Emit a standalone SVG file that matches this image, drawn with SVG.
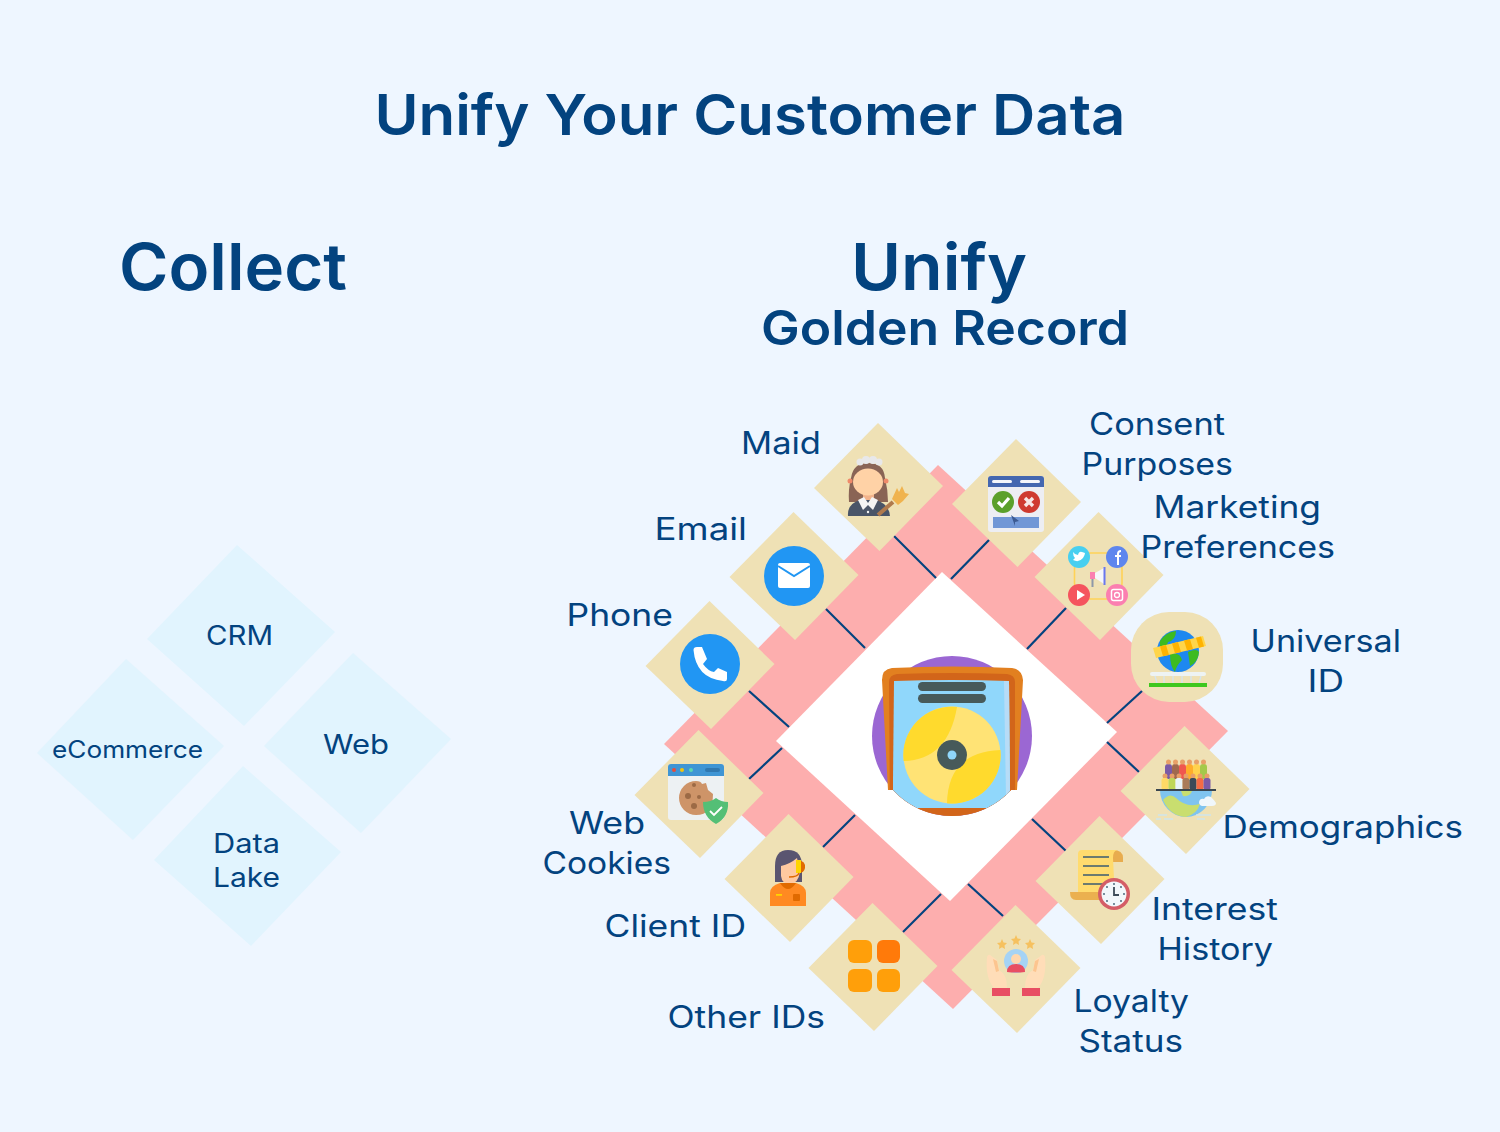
<svg xmlns="http://www.w3.org/2000/svg" width="1500" height="1132" viewBox="0 0 1500 1132">
<style>
text{font-family:"Inter","Noto Sans","Liberation Sans",sans-serif;fill:#03437f}
.h{font-weight:600}
.l{font-size:31px;font-weight:400}
.s{font-size:27px;font-weight:400}
.tan{fill:#efe1b5}
.src{fill:#e1f4fe}
.lk{stroke:#03437f;stroke-width:2.2;fill:none}
</style>
<defs>
<polygon id="d" points="-0.5,-64 64.5,-1 1,64 -64.5,1"/>
<clipPath id="cc"><circle cx="952" cy="736" r="80"/><rect x="870" y="650" width="165" height="140"/></clipPath>
<clipPath id="cb"><rect x="870" y="650" width="165" height="158"/></clipPath>
</defs>
<rect width="1500" height="1132" fill="#eef6ff"/>

<text class="h" x="374.500" y="135" font-size="57" textLength="751" lengthAdjust="spacingAndGlyphs">Unify Your Customer Data</text>
<text class="h" x="119" y="290" font-size="65" textLength="228" lengthAdjust="spacingAndGlyphs">Collect</text>
<text class="h" x="851" y="290" font-size="65" textLength="176" lengthAdjust="spacingAndGlyphs">Unify</text>
<text class="h" x="761" y="345" font-size="48" textLength="368" lengthAdjust="spacingAndGlyphs">Golden Record</text>

<g id="src-crm"><polygon class="src" points="237,545 335,632 244,726 147,639"/><text class="s" x="206" y="645" textLength="67" lengthAdjust="spacingAndGlyphs">CRM</text></g>
<g id="src-ecommerce"><polygon class="src" points="126,659 224,746 133,840 37,753"/><text x="52" y="758" font-size="24" textLength="151" lengthAdjust="spacingAndGlyphs">eCommerce</text></g>
<g id="src-web"><polygon class="src" points="353,653 451,739 361,833 264,746"/><text class="s" x="323" y="754" textLength="66" lengthAdjust="spacingAndGlyphs">Web</text></g>
<g id="src-lake"><polygon class="src" points="243,766 341,852 251,946 154,860"/><text class="s" x="213" y="853" textLength="67" lengthAdjust="spacingAndGlyphs">Data</text><text class="s" x="213" y="887" textLength="67" lengthAdjust="spacingAndGlyphs">Lake</text></g>

<g id="backdrop">
<polygon points="938,465 1228,731 953,1009 664,744" fill="#fdaeae"/>
<polygon points="942,572 1117,732 950,901 776,741" fill="#fff"/>
</g>

<g id="connectors">
<line class="lk" x1="894" y1="536" x2="936" y2="578"/>
<line class="lk" x1="989" y1="540" x2="951" y2="579"/>
<line class="lk" x1="1066" y1="608" x2="1027" y2="649"/>
<line class="lk" x1="1142" y1="691" x2="1107" y2="723"/>
<line class="lk" x1="826" y1="609" x2="865" y2="648"/>
<line class="lk" x1="749" y1="691" x2="789" y2="727"/>
<line class="lk" x1="749" y1="779" x2="782" y2="748"/>
<line class="lk" x1="823" y1="847" x2="855" y2="815"/>
<line class="lk" x1="903" y1="932" x2="941" y2="894"/>
<line class="lk" x1="968" y1="884" x2="1003" y2="916"/>
<line class="lk" x1="1032" y1="819" x2="1066" y2="851"/>
<line class="lk" x1="1107" y1="742" x2="1139" y2="772"/>
</g>

<g id="center">
<circle cx="952" cy="736" r="80" fill="#9b67d3"/>
<g clip-path="url(#cc)">
<path d="M892,668 Q952,665 1012,668 Q1022,669 1023,680 L1017,790 L1017,830 L888,830 L888,790 L882,680 Q882,669 892,668Z" fill="#e28020"/>
<path d="M897,674 Q952,672 1007,674 Q1015,675 1015,682 L1015,830 L890,830 L889,682 Q889,675 897,674Z" fill="#d2651a"/>
</g>
<g clip-path="url(#cb)"><g clip-path="url(#cc)">
<path d="M894,681 Q952,679 1009,681 L1010,780 L1010,830 L893,830 L893,780Z" fill="#90d7fb"/>
<path d="M1004,681 L1009,681 L1010,790 L1006,796Z" fill="#b6dcf7"/>
</g></g>
<rect x="918" y="682" width="68" height="9" rx="4.500" fill="#475a5a"/>
<rect x="918" y="694" width="68" height="9" rx="4.500" fill="#475a5a"/>
<circle cx="952" cy="755" r="48.500" fill="#ffe375"/>
<path d="M957,707 A48.500,48.500 0 0 0 903.600,761 Q948,760 957,707Z" fill="#ffda2d"/>
<path d="M1000.400,750 A48.500,48.500 0 0 1 947,803.300 Q948,752 1000.400,750Z" fill="#ffda2d"/>
<circle cx="952" cy="755" r="15" fill="#475a5a"/>
<circle cx="952" cy="755" r="4.500" fill="#90d7fb"/>
</g>

<g id="maid">
<use href="#d" class="tan" x="878.500" y="487"/>
<path d="M849,502 Q848,490 851,478 Q853,463 868,463 Q884,463 885,478 Q888,490 888,502Z" fill="#8a6455"/>
<g fill="#e8e8ea"><circle cx="860" cy="462" r="3.500"/><circle cx="866" cy="460" r="4"/><circle cx="873" cy="460" r="4"/><circle cx="879" cy="462" r="3.500"/></g>
<circle cx="850" cy="481" r="2.500" fill="#f08a6a"/><circle cx="886" cy="481" r="2.500" fill="#f08a6a"/>
<rect x="863" y="492" width="11" height="9" fill="#f2b38c"/>
<ellipse cx="868" cy="482" rx="15" ry="13.500" fill="#ffd2a6"/>
<path d="M848,516 Q847,504 860,500 L876,500 Q889,504 890,516Z" fill="#4a5568"/>
<path d="M858,500 L864,497 L868,503 L872,497 L878,500 L873,510 L868,505 L863,510Z" fill="#f4f4f4"/>
<circle cx="868" cy="512" r="1.200" fill="#f4f4f4"/>
<line x1="878" y1="515" x2="893" y2="502" stroke="#b07a4d" stroke-width="4"/>
<path d="M892,499 L897,488 L899,492 L902,486 L905,493 L909,494 L903,501 L898,505Z" fill="#f0b34e"/>
</g>

<g id="consent">
<use href="#d" class="tan" x="1016.500" y="503"/>
<rect x="988" y="476" width="56" height="56" rx="3" fill="#edeef3"/>
<path d="M988,487 V479 Q988,476 991,476 H1041 Q1044,476 1044,479 V487Z" fill="#4467b0"/>
<rect x="992" y="480" width="20" height="3" rx="1.500" fill="#f4f6fb"/><rect x="1020" y="480" width="20" height="3" rx="1.500" fill="#f4f6fb"/>
<circle cx="1003" cy="502" r="11" fill="#5ba02b"/>
<path d="M998,502 L1002,506 L1009,498" stroke="#fff" stroke-width="3.200" fill="none"/>
<circle cx="1029" cy="502" r="11" fill="#cf3a2f"/>
<path d="M1025,498 L1033,506 M1033,498 L1025,506" stroke="#f7e6e4" stroke-width="3.400" fill="none"/>
<rect x="993" y="517" width="46" height="11" fill="#7197d6"/>
<path d="M1011,515 L1019,521 L1015,522 L1015,526Z" fill="#3c5a92"/>
</g>

<g id="marketing">
<use href="#d" class="tan" x="1099" y="576"/>
<rect x="1074.500" y="553" width="47.500" height="46" rx="16" fill="none" stroke="#ffd257" stroke-width="1.600"/>
<circle cx="1079" cy="557" r="11" fill="#48cff0"/>
<path d="M1073,560 Q1079,563 1083,558 Q1085,555 1085,553 L1082,552 Q1079,551 1078,555 Q1075,555 1073,552 Q1073,556 1075,558Z" fill="#fff"/>
<circle cx="1117" cy="557" r="11" fill="#5e86ee"/>
<path d="M1118,565 V554 Q1118,551 1121,551 M1115,556 H1121" stroke="#fff" stroke-width="2" fill="none"/>
<circle cx="1079" cy="595" r="11" fill="#f5545e"/>
<path d="M1077,590 L1085,595 L1077,600Z" fill="#fff"/>
<circle cx="1117" cy="595" r="11" fill="#fb7fb0"/>
<rect x="1111.500" y="589.500" width="11" height="11" rx="2" fill="none" stroke="#fff" stroke-width="1.500"/><circle cx="1117" cy="595" r="2.500" fill="none" stroke="#fff" stroke-width="1.300"/>
<rect x="1090" y="572" width="5" height="7" fill="#fb7fb0"/>
<path d="M1095,573 L1104,568 V584 L1095,578Z" fill="#f6f6fa"/>
<rect x="1103.500" y="567" width="2" height="18" fill="#6a77ee"/>
<rect x="1091.500" y="579" width="2" height="8" fill="#8d98a8"/>
</g>

<g id="email">
<use href="#d" class="tan" x="794" y="576"/>
<circle cx="794" cy="576" r="30" fill="#2196f3"/>
<rect x="778" y="563" width="32" height="25" rx="2" fill="#fff"/>
<path d="M778,566 L794,576 L810,566" fill="none" stroke="#2196f3" stroke-width="2"/>
</g>

<g id="phone">
<use href="#d" class="tan" x="710" y="665"/>
<circle cx="710" cy="664" r="30" fill="#2196f3"/>
<path d="M693.500,650 Q693.500,647 697,647 L702,647 L707,659 L703,664 Q708,671 714,672 L718,668 L727,672 L727,679 Q727,682 723,681 Q696,678 693.500,650Z" fill="#fff"/>
</g>

<g id="universal">
<rect x="1131" y="612" width="92" height="90" rx="38" class="tan"/>
<circle cx="1178" cy="651" r="21" fill="#1e88f0"/>
<path d="M1160,641 Q1166,632 1176,631 Q1176,640 1168,642 Q1166,650 1160,652Z M1188,652 Q1197,648 1199,652 Q1198,662 1190,666Z M1170,654 Q1180,652 1182,660 Q1176,666 1175,672 Q1170,666 1170,654Z" fill="#3dbb20"/>
<polygon points="1153,648 1203,636 1206,646 1156,658" fill="#ffd54a"/>
<polygon points="1160,646.300 1166,645 1169,654.900 1163,656.300" fill="#ffb300"/>
<polygon points="1172,643.500 1178,642 1181,652 1175,653.400" fill="#ffb300"/>
<polygon points="1184,640.600 1190,639.200 1193,649.100 1187,650.500" fill="#ffb300"/>
<polygon points="1196,637.700 1201,636.500 1204,646.400 1199,647.700" fill="#ffb300"/>
<rect x="1150" y="672" width="56" height="4" rx="2" fill="#eef3f3"/>
<path d="M1155,676 L1157,683 M1164,676 V683 M1173,676 V683 M1182,676 V683 M1191,676 V683 M1201,676 L1199,683" stroke="#d5e5ee" stroke-width="1.300"/>
<rect x="1149" y="683" width="58" height="4" fill="#3ec81e"/>
</g>

<g id="demographics">
<use href="#d" class="tan" x="1185" y="790"/>
<rect x="1165" y="764" width="7" height="15" rx="3" fill="#7b5aa6"/>
<rect x="1172" y="764" width="7" height="15" rx="3" fill="#a0694e"/>
<rect x="1179" y="764" width="7" height="15" rx="3" fill="#f0574f"/>
<rect x="1186" y="764" width="7" height="15" rx="3" fill="#ffad2a"/>
<rect x="1193" y="764" width="7" height="15" rx="3" fill="#ffd24d"/>
<rect x="1200" y="764" width="7" height="15" rx="3" fill="#a4c94a"/>
<g fill="#e8a068"><circle cx="1168.500" cy="762" r="2.500"/><circle cx="1175.500" cy="762" r="2.500"/><circle cx="1182.500" cy="762" r="2.500"/><circle cx="1189.500" cy="762" r="2.500"/><circle cx="1196.500" cy="762" r="2.500"/><circle cx="1203.500" cy="762" r="2.500"/>
<circle cx="1165" cy="776" r="2.500"/><circle cx="1172" cy="776" r="2.500"/><circle cx="1179" cy="776" r="2.500"/><circle cx="1186" cy="776" r="2.500"/><circle cx="1193" cy="776" r="2.500"/><circle cx="1200" cy="776" r="2.500"/><circle cx="1207" cy="776" r="2.500"/></g>
<rect x="1161.500" y="778" width="7" height="12" rx="2.500" fill="#ffd966"/>
<rect x="1168.500" y="778" width="7" height="12" rx="2.500" fill="#bfd75a"/>
<rect x="1175.500" y="778" width="7" height="12" rx="2.500" fill="#e8f4fa"/>
<rect x="1182.500" y="778" width="7" height="12" rx="2.500" fill="#a97b5a"/>
<rect x="1189.500" y="778" width="7" height="12" rx="2.500" fill="#3c4a58"/>
<rect x="1196.500" y="778" width="7" height="12" rx="2.500" fill="#f46b45"/>
<rect x="1203.500" y="778" width="7" height="12" rx="2.500" fill="#7b5aa6"/>
<path d="M1160,790 H1212 A26,27 0 0 1 1160,790Z" fill="#7fc4ef"/>
<path d="M1163,800 Q1170,792 1176,798 Q1186,808 1200,804 Q1197,814 1186,817 Q1170,816 1163,800Z M1181,791 H1192 Q1190,797 1183,796Z" fill="#c9de6f"/>
<path d="M1199,802 Q1200,798 1204,799 Q1206,795 1211,797 Q1215,801 1216,803 Q1216,806 1212,806 H1202 Q1199,805 1199,802Z" fill="#f0f7fb"/>
<path d="M1158,815 H1167 M1156,819 H1161 M1164,819 H1173 M1196,815 H1211 M1197,819 H1205" stroke="#cfe5ec" stroke-width="1.300"/>
<line x1="1156" y1="790" x2="1216" y2="790" stroke="#3a4650" stroke-width="2"/>
</g>

<g id="interest">
<use href="#d" class="tan" x="1100" y="880"/>
<path d="M1113,850 Q1123,850 1123,858 V862 H1113Z" fill="#e8ac4e"/>
<path d="M1082,850 H1117 Q1113,851 1113,858 L1115,900 H1078 V854 Q1078,850 1082,850Z" fill="#ffdb6e"/>
<path d="M1070,892 H1100 V900 H1076 Q1070,900 1070,892Z" fill="#ebb04f"/>
<path d="M1083,857 H1109 M1083,866 H1109 M1083,875 H1109 M1083,884 H1103" stroke="#3c5c70" stroke-width="1.700"/>
<circle cx="1114" cy="894" r="16" fill="#d45d66"/>
<circle cx="1114" cy="894" r="12.500" fill="#f2f7fb"/>
<path d="M1114,887 V895 H1119" stroke="#3c4a58" stroke-width="1.800" fill="none"/>
<g fill="#3c5c70"><circle cx="1114" cy="884" r="0.900"/><circle cx="1114" cy="904" r="0.900"/><circle cx="1104" cy="894" r="0.900"/><circle cx="1124" cy="894" r="0.900"/><circle cx="1107" cy="887" r="0.900"/><circle cx="1121" cy="887" r="0.900"/><circle cx="1107" cy="901" r="0.900"/><circle cx="1121" cy="901" r="0.900"/></g>
</g>

<g id="loyalty">
<use href="#d" class="tan" x="1016" y="969"/>
<g fill="#f6c15f"><polygon points="1002,939 1003.500,942.500 1007,943 1004.500,945.500 1005,949 1002,947.300 999,949 999.500,945.500 997,943 1000.500,942.500"/><polygon points="1016,935 1017.500,938.500 1021,939 1018.500,941.500 1019,945 1016,943.300 1013,945 1013.500,941.500 1011,939 1014.500,938.500"/><polygon points="1030,939 1031.500,942.500 1035,943 1032.500,945.500 1033,949 1030,947.300 1027,949 1027.500,945.500 1025,943 1028.500,942.500"/></g>
<circle cx="1016" cy="961" r="12" fill="#a5d3f5"/>
<path d="M1007,972 Q1007,964 1016,964 Q1025,964 1025,972 Q1016,973 1007,972Z" fill="#e84e63"/>
<circle cx="1016" cy="959" r="5" fill="#ffd7ae"/>
<path d="M987,957 Q988,954 990,955 L997,960 L999,970 Q1007,974 1007,988 H994 Q985,978 987,957Z" fill="#ffddb8"/>
<path d="M1045,957 Q1044,954 1042,955 L1035,960 L1033,970 Q1025,974 1025,988 H1038 Q1047,978 1045,957Z" fill="#ffddb8"/>
<path d="M993,959 L997,961 L999,971 L996,972Z" fill="#fcc58f"/><path d="M1039,959 L1035,961 L1033,971 L1036,972Z" fill="#fcc58f"/>
<rect x="992" y="988" width="18" height="8" fill="#e84e63"/><rect x="1022" y="988" width="18" height="8" fill="#e84e63"/>
</g>

<g id="other-ids">
<use href="#d" class="tan" x="873" y="967"/>
<rect x="848" y="940" width="24" height="23" rx="6" fill="#ff9f0a"/>
<rect x="877" y="940" width="23" height="23" rx="6" fill="#ff7a0a"/>
<rect x="848" y="969" width="24" height="23" rx="6" fill="#ff9f0a"/>
<rect x="877" y="969" width="23" height="23" rx="6" fill="#ff9f0a"/>
</g>

<g id="client-id">
<use href="#d" class="tan" x="789" y="878"/>
<path d="M775,882 V866 Q775,850 788,850 Q802,850 802,866 V882Z" fill="#5a5570"/>
<path d="M781,866 Q790,864 797,858 L800,872 Q798,884 790,884 Q782,884 781,876Z" fill="#ffc9a0"/>
<path d="M770,906 V893 Q770,886 780,883 H796 Q806,886 806,893 V906Z" fill="#ff8a22"/>
<path d="M780,883 Q788,895 796,883Z" fill="#e06a00"/>
<rect x="776" y="894" width="6" height="1.800" fill="#ffd400"/>
<rect x="793" y="894" width="7" height="7" rx="1" fill="#e06a00"/>
<path d="M798,860 Q806,861 805,868 Q804,873 799,873Z" fill="#e06a00"/>
<rect x="796" y="860" width="5" height="13" fill="#ffd400"/>
<path d="M799,873 Q798,877 789,877" stroke="#e06a00" stroke-width="1.300" fill="none"/>
</g>

<g id="web-cookies">
<use href="#d" class="tan" x="699" y="794"/>
<rect x="668" y="764" width="56" height="56" rx="3" fill="#edf1f3"/>
<path d="M668,776 V767 Q668,764 671,764 H721 Q724,764 724,767 V776Z" fill="#3f95d4"/>
<circle cx="674" cy="770" r="2" fill="#e74c3c"/><circle cx="682" cy="770" r="2" fill="#f1c40f"/><circle cx="691" cy="770" r="2" fill="#5bd6b0"/>
<rect x="705" y="768" width="15" height="4" rx="2" fill="#3078b0"/>
<path d="M696,781 Q701,781 702,784 L706,783 L708,790 L713,794 Q713,815 696,815 A17,17 0 0 1 696,781Z" fill="#ce9468"/>
<g fill="#9c6a45"><circle cx="694" cy="785" r="2"/><circle cx="688" cy="796" r="3"/><circle cx="699" cy="797" r="2"/><circle cx="694" cy="806" r="3"/></g>
<path d="M716,798 Q721,802 728,802 Q729,817 716,824 Q703,817 703,802 Q711,802 716,798Z" fill="#54bf76"/>
<path d="M710,811 L714,815 L722,807" stroke="#fff" stroke-width="1.800" fill="none"/>
</g>

<g id="labels">
<text class="l" x="741" y="454" textLength="80" lengthAdjust="spacingAndGlyphs">Maid</text>
<text class="l" x="1089" y="435" textLength="136" lengthAdjust="spacingAndGlyphs">Consent</text>
<text class="l" x="1081.500" y="475" textLength="151.500" lengthAdjust="spacingAndGlyphs">Purposes</text>
<text class="l" x="1153.500" y="518" textLength="167.500" lengthAdjust="spacingAndGlyphs">Marketing</text>
<text class="l" x="1140.500" y="558" textLength="194.500" lengthAdjust="spacingAndGlyphs">Preferences</text>
<text class="l" x="654.500" y="540" textLength="92.500" lengthAdjust="spacingAndGlyphs">Email</text>
<text class="l" x="566.500" y="626" textLength="106.500" lengthAdjust="spacingAndGlyphs">Phone</text>
<text class="l" x="1250.500" y="652" textLength="150.500" lengthAdjust="spacingAndGlyphs">Universal</text>
<text class="l" x="1307.500" y="692" textLength="36.500" lengthAdjust="spacingAndGlyphs">ID</text>
<text class="l" x="1222.500" y="838" textLength="240.500" lengthAdjust="spacingAndGlyphs">Demographics</text>
<text class="l" x="569" y="834" textLength="76" lengthAdjust="spacingAndGlyphs">Web</text>
<text class="l" x="542.500" y="874" textLength="128.500" lengthAdjust="spacingAndGlyphs">Cookies</text>
<text class="l" x="604.500" y="937" textLength="141.500" lengthAdjust="spacingAndGlyphs">Client ID</text>
<text class="l" x="667.500" y="1028" textLength="157.500" lengthAdjust="spacingAndGlyphs">Other IDs</text>
<text class="l" x="1151.500" y="920" textLength="126.500" lengthAdjust="spacingAndGlyphs">Interest</text>
<text class="l" x="1157.500" y="960" textLength="115.500" lengthAdjust="spacingAndGlyphs">History</text>
<text class="l" x="1073.500" y="1012" textLength="115.500" lengthAdjust="spacingAndGlyphs">Loyalty</text>
<text class="l" x="1078.500" y="1052" textLength="104.500" lengthAdjust="spacingAndGlyphs">Status</text>
</g>
</svg>
